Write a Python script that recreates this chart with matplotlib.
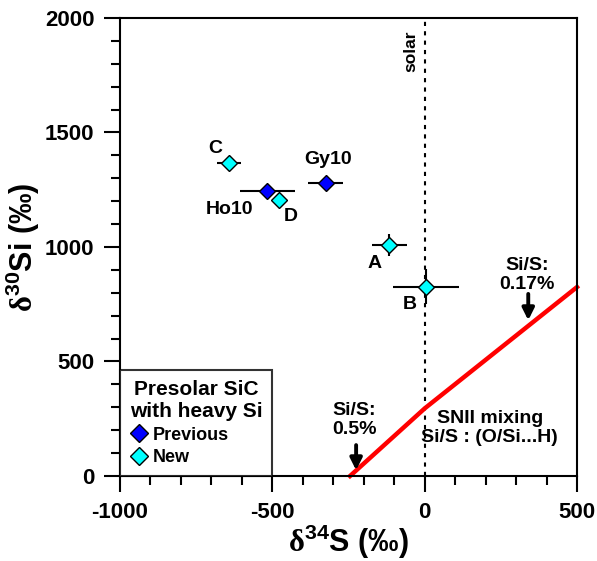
import matplotlib

matplotlib.use("Agg")

import matplotlib.pyplot as plt
from matplotlib.ticker import MultipleLocator

plt.rcParams["font.family"] = ["Liberation Sans", "DejaVu Sans"]
plt.rcParams["font.weight"] = "bold"
plt.rcParams["axes.unicode_minus"] = False
plt.rcParams["mathtext.fontset"] = "custom"
plt.rcParams["mathtext.rm"] = "Liberation Sans:bold"
plt.rcParams["mathtext.sf"] = "Liberation Serif"

# previous grains
prev_names = ["Ho10", "Gy10"]
prev_s34 = [-516, -325]
prev_si30 = [1245, 1280]
prev_s34_err = [90, 57]
prev_si30_err = [0, 0]

# new grains
new_names = ["C", "D", "A", "B"]
new_s34 = [-642, -479, -116, 4]
new_si30 = [1367, 1205, 1009, 827]
new_s34_err = [38, 0, 57, 108]
new_si30_err = [0, 0, 48, 76]

# grain label positions
label_names = ["C", "Gy10", "Ho10", "D", "A", "B"]
label_x = [-688, -317, -639, -439, -163, -48]
label_y = [1428, 1380, 1162, 1131, 930, 747]

# SNII mixing line
mix_s34 = [-245, 0, 500]
mix_si30 = [0, 295, 825]

# Si/S markers on mixing line
arrow_text = ["Si/S:\n0.5%", "Si/S:\n0.17%"]
arrow_x = [-225, 340]
arrow_tip = [25, 680]
arrow_tail = [135, 795]
arrow_text_y = [245, 878]

fig = plt.figure(figsize=(5.97, 5.61), dpi=100)
ax = fig.add_axes([0.201, 0.1515, 0.7655, 0.8165])

ax.axvline(0, color="black", linestyle=(0, (2, 2.5)), linewidth=1.5, zorder=1)
ax.plot(mix_s34, mix_si30, color="#ff0000", linewidth=3.2, zorder=2, clip_on=False)

ax.errorbar(prev_s34, prev_si30, xerr=prev_s34_err, yerr=prev_si30_err, fmt="none",
            ecolor="black", elinewidth=1.5, capsize=0, zorder=3)
ax.errorbar(new_s34, new_si30, xerr=new_s34_err, yerr=new_si30_err, fmt="none",
            ecolor="black", elinewidth=1.5, capsize=0, zorder=3)
ax.plot(prev_s34, prev_si30, "D", color="#0000ff", markeredgecolor="black",
        markeredgewidth=1.0, markersize=7.8, linestyle="none", zorder=4, label="Previous")
ax.plot(new_s34, new_si30, "D", color="#00ffff", markeredgecolor="black",
        markeredgewidth=1.0, markersize=7.8, linestyle="none", zorder=4, label="New")

for name, x, y in zip(label_names, label_x, label_y):
    ax.text(x, y, name, fontsize=14, fontweight="bold", ha="center", va="center")

for text, x, tip, tail, ty in zip(arrow_text, arrow_x, arrow_tip, arrow_tail, arrow_text_y):
    ax.annotate("", xy=(x, tip), xytext=(x, tail),
                arrowprops=dict(arrowstyle="-|>,head_length=0.7,head_width=0.35",
                                color="black", linewidth=2.8, shrinkA=0, shrinkB=0))
    ax.text(x - 5, ty, text, fontsize=14, fontweight="bold", ha="center", va="center",
            linespacing=1.1)

ax.text(214, 210, "SNII mixing\nSi/S : (O/Si...H)", fontsize=14, fontweight="bold",
        ha="center", va="center", linespacing=1.1)
ax.text(-45, 1855, "solar", fontsize=12.5, fontweight="bold", rotation=90,
        ha="center", va="center")

ax.set_xlim(-1000, 500)
ax.set_ylim(0, 2000)
ax.xaxis.set_major_locator(MultipleLocator(500))
ax.xaxis.set_minor_locator(MultipleLocator(100))
ax.yaxis.set_major_locator(MultipleLocator(500))
ax.yaxis.set_minor_locator(MultipleLocator(100))
ax.tick_params(which="both", direction="out", width=1.5, labelsize=16, top=False, right=False)
ax.tick_params(which="major", length=11.5, pad=7)
ax.tick_params(which="minor", length=6.5)
for label in ax.get_xticklabels() + ax.get_yticklabels():
    label.set_fontweight("bold")
for spine in ax.spines.values():
    spine.set_linewidth(1.5)

ax.set_xlabel(r"$\mathsf{\delta}^{\mathrm{34}}$S (‰)", fontsize=22, fontweight="bold", labelpad=0)
ax.set_ylabel(r"$\mathsf{\delta}^{\mathrm{30}}$Si (‰)", fontsize=22, fontweight="bold", labelpad=2)

leg = ax.legend(loc="lower left", borderaxespad=0, frameon=True, fancybox=False,
                title="Presolar SiC\nwith heavy Si", fontsize=13,
                title_fontproperties={"weight": "bold", "size": 15},
                handletextpad=0.25, handlelength=1.0, labelspacing=0.3,
                borderpad=0.55, markerscale=1.15)
leg.get_frame().set_edgecolor("black")
leg.get_frame().set_linewidth(1.5)
for text in leg.get_texts():
    text.set_fontweight("bold")
leg._legend_box.align = "left"
leg.get_title().set_ha("center")
leg.get_title().set_linespacing(1.2)

fig.savefig("out.png", dpi=100)
